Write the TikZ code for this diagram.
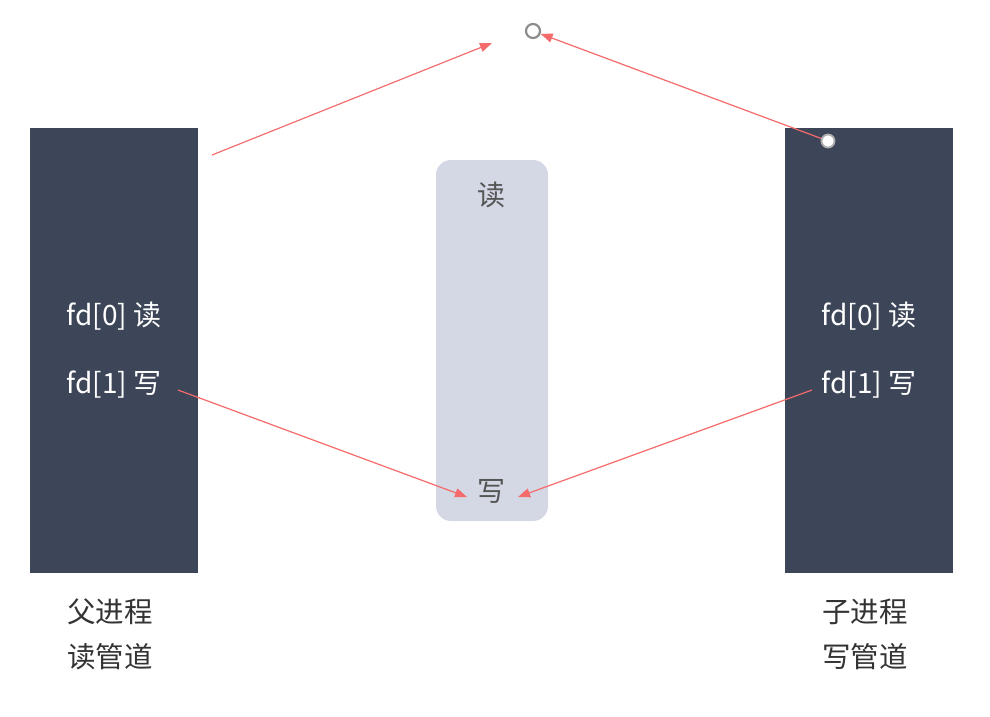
\documentclass[tikz,border=0pt]{standalone}
\usepackage{fontspec}
\newfontfamily\cjk{Noto Sans CJK SC}
\usetikzlibrary{arrows.meta}
\definecolor{procbox}{HTML}{3D4659}
\definecolor{pipebox}{HTML}{D3D8E4}
\definecolor{arrowred}{HTML}{F56A6A}
\definecolor{labelgray}{HTML}{333333}
\definecolor{pipetext}{HTML}{555555}
\definecolor{ringgray}{HTML}{8C8C8C}
\tikzset{
  procrect/.style={fill=procbox, draw=none, minimum width=168pt, minimum height=445pt, inner sep=0pt},
  piperect/.style={fill=pipebox, draw=none, rounded corners=15pt, minimum width=112pt, minimum height=361pt, inner sep=0pt},
  fdtext/.style={text=white, font=\cjk\fontsize{28}{32}\selectfont, inner sep=0pt},
  pipelabel/.style={text=pipetext, font=\cjk\fontsize{28}{32}\selectfont, inner sep=0pt},
  undertext/.style={text=labelgray, font=\cjk\fontsize{28.5}{45}\selectfont, align=left, inner sep=0pt},
  ring/.style={circle, draw=ringgray, fill=white, line width=2.2pt, minimum size=14pt, inner sep=0pt},
  redarrow/.style={draw=arrowred, line width=1.2pt, -{Triangle[length=12pt,width=9pt]}},
}
\begin{document}
\begin{tikzpicture}[x=1pt,y=-1pt]
\useasboundingbox (0,0) rectangle (990,717);
\fill[white] (0,0) rectangle (990,717);
% boxes
\node[procrect] (parent) at (114,350.5) {};
\node[procrect] (child) at (869,350.5) {};
\node[piperect] (pipe) at (492,340.5) {};
% texts in boxes
\node[fdtext] (p0) at (114,316) {fd[0] 读};
\node[fdtext] (p1) at (114,385) {fd[1] 写};
\node[fdtext] (c0) at (869,316) {fd[0] 读};
\node[fdtext] (c1) at (869,385) {fd[1] 写};
\node[pipelabel] (pr) at (491,195) {读};
\node[pipelabel] (pw) at (491,491) {写};
% labels below
\node[undertext] (plabel) at (110,634) {父进程\\读管道};
\node[undertext] (clabel) at (865,634) {子进程\\写管道};
% rings
\node[ring] (topring) at (533,31) {};
% arrow endpoints
\coordinate (pstart) at (212,155);
\coordinate (pend) at (492,43);
\coordinate (wleft) at (467,497);
\coordinate (wright) at (518,497);
\coordinate (p1s) at (178,390);
\coordinate (c1s) at (812,390);
\coordinate (childpt) at (828,141);
% arrows
\draw[redarrow] (pstart) -- (pend);
\draw[redarrow] (childpt) -- (topring);
\draw[redarrow] (p1s) -- (wleft);
\draw[redarrow] (c1s) -- (wright);
% child ring above arrow start
\node[ring, draw=ringgray!70, line width=1.8pt, minimum size=13pt] (childring) at (childpt) {};
\end{tikzpicture}
\end{document}
